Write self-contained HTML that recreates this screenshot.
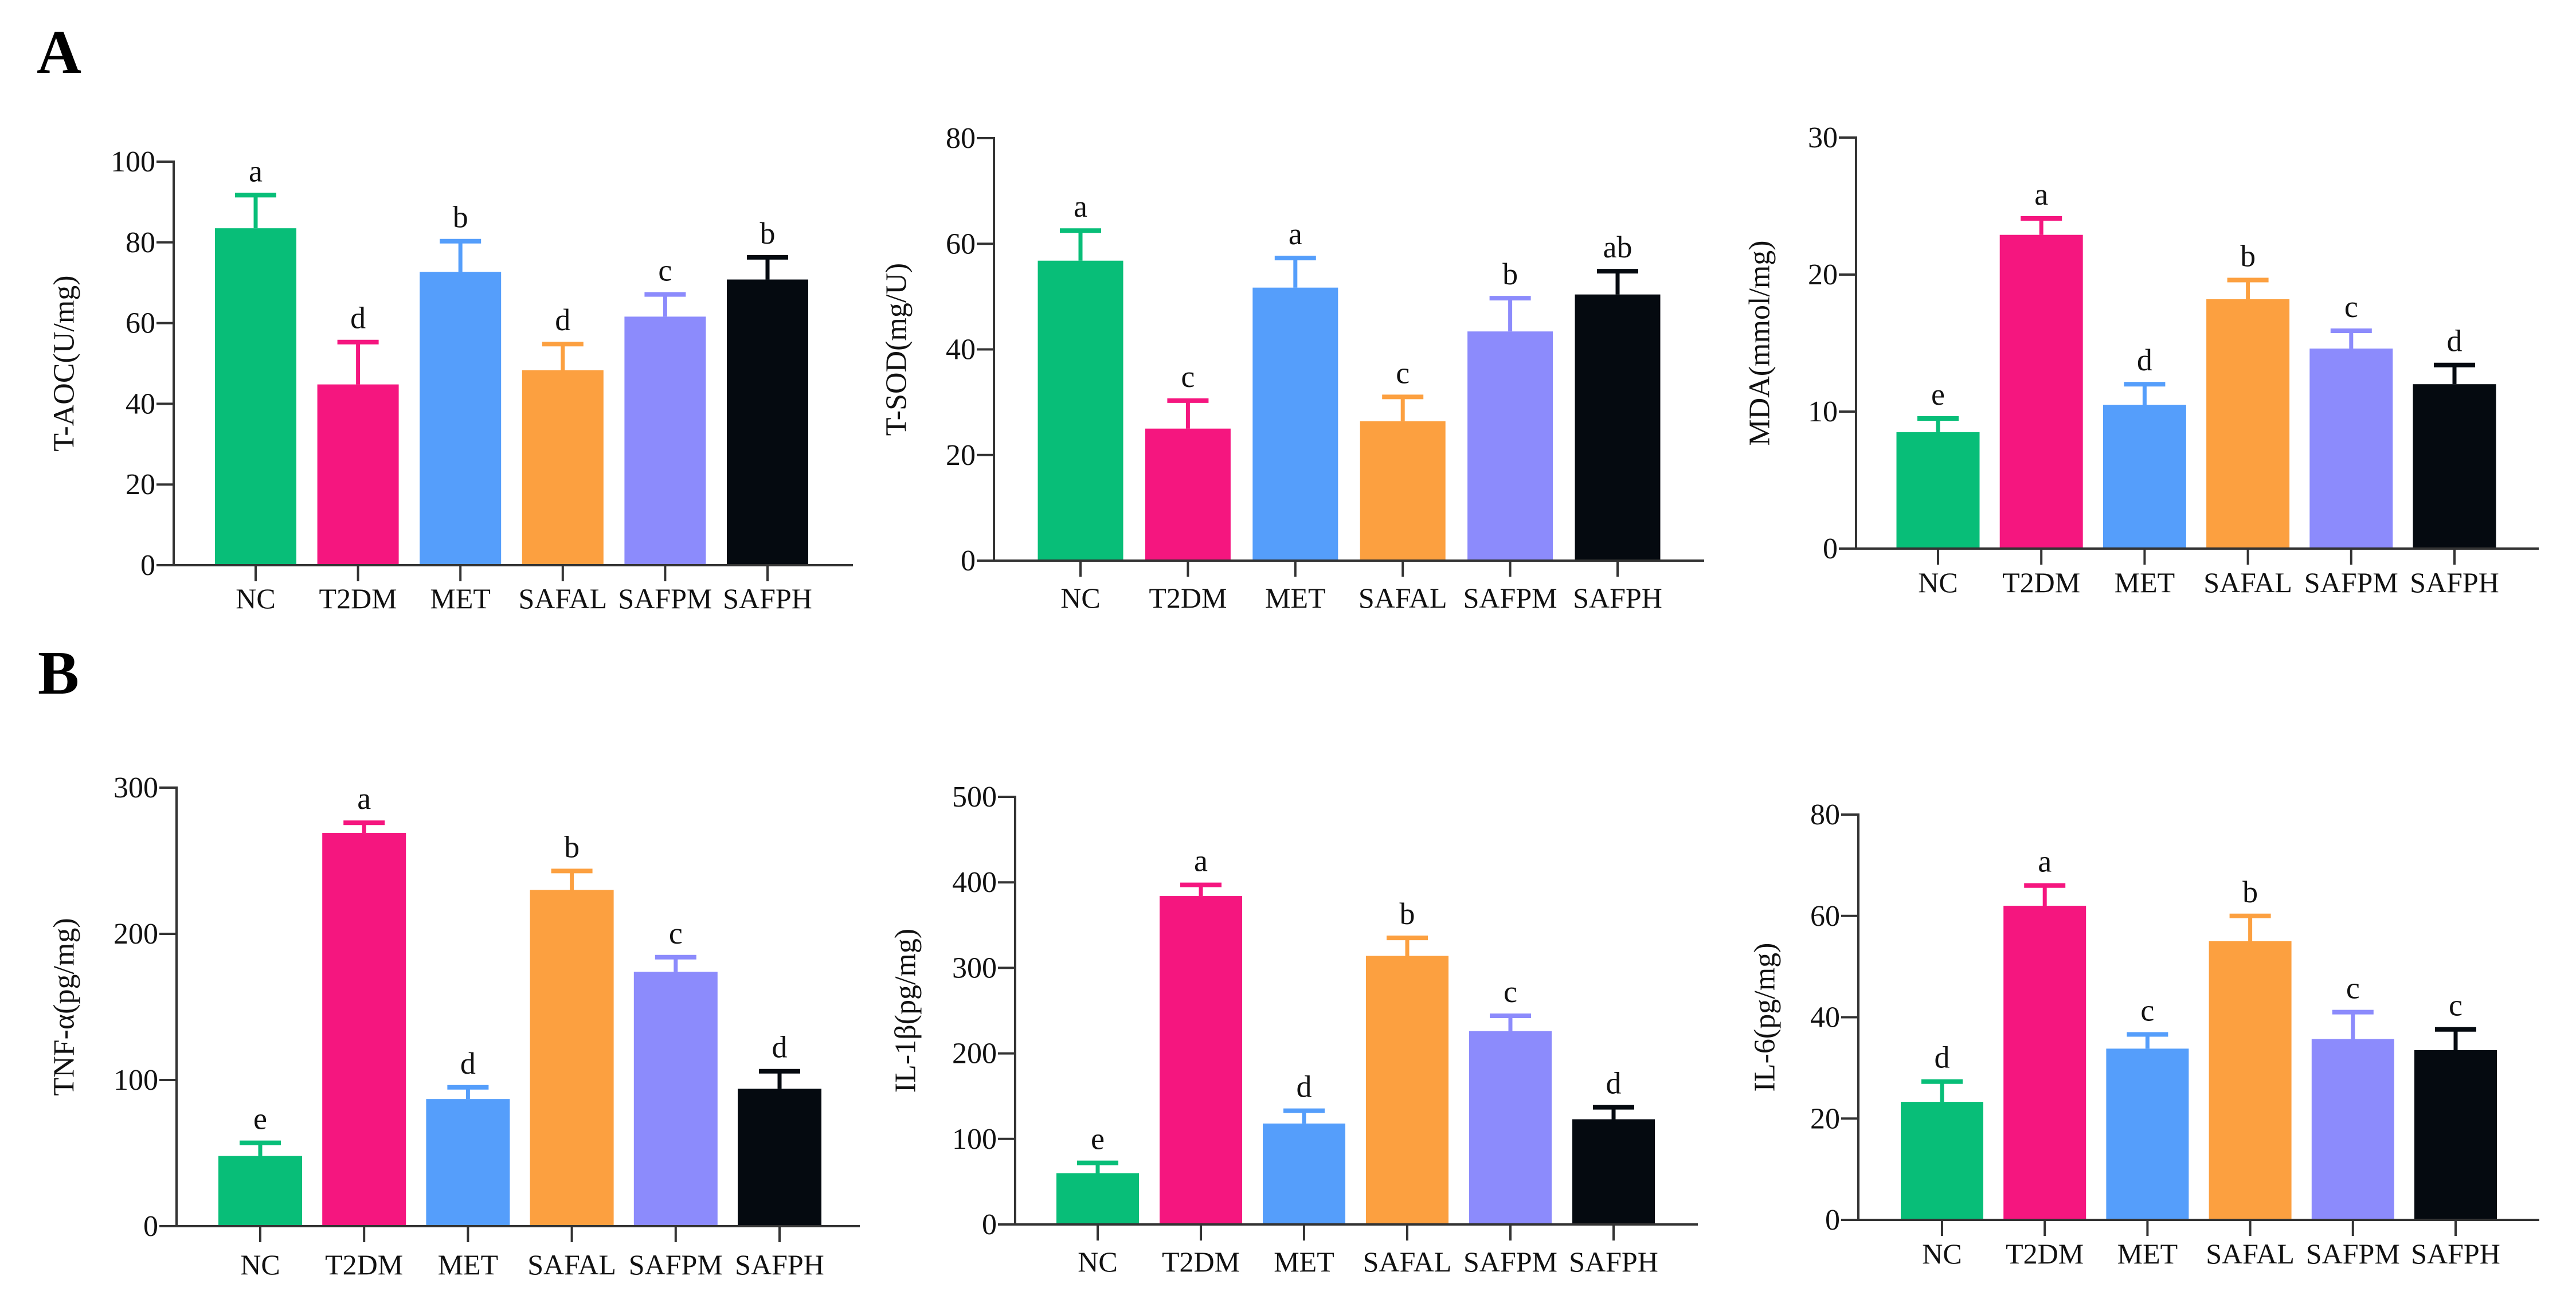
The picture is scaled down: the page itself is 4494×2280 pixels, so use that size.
<!DOCTYPE html>
<html><head><meta charset="utf-8">
<style>
html,body{margin:0;padding:0;background:#fff;}
svg{display:block;font-family:"Liberation Serif","Times New Roman",serif;}
</style></head>
<body>
<svg id="fig" width="4494" height="2280" viewBox="0 0 4494 2280" xmlns="http://www.w3.org/2000/svg">
<rect width="4494" height="2280" fill="#fff"/>
<text x="64" y="127" font-size="108" font-weight="bold">A</text>
<text x="66" y="1210" font-size="108" font-weight="bold">B</text>
</svg>
<script>
const categories = ["NC","T2DM","MET","SAFAL","SAFPM","SAFPH"];
const colors = ["#08BE78","#F5167F","#559EFB","#FCA040","#8C8BFC","#050A10"];

const taocValues = [83.5, 44.8, 72.7, 48.3, 61.6, 70.8];
const taocErrors = [8.2, 10.5, 7.6, 6.5, 5.5, 5.5];
const taocLetters = ["a","d","b","d","c","b"];
const taocTicks = [0,20,40,60,80,100];

const tsodValues = [56.8, 25.0, 51.7, 26.4, 43.4, 50.4];
const tsodErrors = [5.7, 5.3, 5.6, 4.6, 6.3, 4.4];
const tsodLetters = ["a","c","a","c","b","ab"];
const tsodTicks = [0,20,40,60,80];

const mdaValues = [8.5, 22.9, 10.5, 18.2, 14.6, 12.0];
const mdaErrors = [1.0, 1.2, 1.5, 1.4, 1.3, 1.4];
const mdaLetters = ["e","a","d","b","c","d"];
const mdaTicks = [0,10,20,30];

const tnfValues = [48, 269, 87, 230, 174, 94];
const tnfErrors = [9, 7, 8, 13, 10, 12];
const tnfLetters = ["e","a","d","b","c","d"];
const tnfTicks = [0,100,200,300];

const il1bValues = [60, 384, 118, 314, 226, 123];
const il1bErrors = [12, 13, 15, 21, 18, 14];
const il1bLetters = ["e","a","d","b","c","d"];
const il1bTicks = [0,100,200,300,400,500];

const il6Values = [23.3, 62.0, 33.8, 55.0, 35.7, 33.5];
const il6Errors = [4.0, 4.0, 2.8, 5.0, 5.3, 4.1];
const il6Letters = ["d","a","c","b","c","c"];
const il6Ticks = [0,20,40,60,80];

const svg = document.getElementById('fig');
const NS = 'http://www.w3.org/2000/svg';
function mk(tag, attrs, parent){
  const e = document.createElementNS(NS, tag);
  for (const k in attrs) e.setAttribute(k, attrs[k]);
  (parent||svg).appendChild(e);
  return e;
}

function drawChart(id, cfg, values, errors, letters, ticks){
  const g = mk('g', {});
  
  
  const ymax = ticks[ticks.length-1];
  const yScale = v => cfg.zero - (v / ymax) * (cfg.zero - cfg.top);
  const step = (cfg.last - cfg.first) / (categories.length - 1);
  const xScale = i => cfg.first + i * step;

  // bars + error bars + letters
  values.forEach((v, i) => {
    const cx = xScale(i), y = yScale(v), ye = yScale(v + errors[i]);
    const bar = mk('rect', {x: cx - cfg.bw/2, y: y, width: cfg.bw, height: cfg.zero - y, fill: colors[i]}, g);
    
    
    const eb = mk('line', {x1: cx, x2: cx, y1: y, y2: ye, stroke: colors[i], 'stroke-width': 7}, g);
    
    
    const cap = mk('line', {x1: cx - 36, x2: cx + 36, y1: ye, y2: ye, stroke: colors[i], 'stroke-width': 8}, g);
    
    
    const lt = mk('text', {x: cx, y: ye - 24, 'font-size': 54, 'text-anchor': 'middle', fill: '#111'}, g);
    lt.textContent = letters[i];
    
    
    const xt = mk('line', {x1: cx, x2: cx, y1: cfg.zero, y2: cfg.zero + 28, stroke: '#333', 'stroke-width': 4}, g);
    
    
    const xl = mk('text', {x: cx, y: cfg.labelY, 'font-size': 50, 'text-anchor': 'middle', fill: '#111'}, g);
    xl.textContent = categories[i];
    
    
  });

  // axes
  const ya = mk('line', {x1: cfg.ax, x2: cfg.ax, y1: cfg.top - 2, y2: cfg.zero + 2, stroke: '#333', 'stroke-width': 4}, g);
  
  
  const xa = mk('line', {x1: cfg.ax - 30, x2: cfg.right, y1: cfg.zero, y2: cfg.zero, stroke: '#333', 'stroke-width': 4}, g);
  
  

  ticks.forEach(t => {
    const y = yScale(t);
    const tk = mk('line', {x1: cfg.ax - 30, x2: cfg.ax, y1: y, y2: y, stroke: '#333', 'stroke-width': 4}, g);
    
    
    const tl = mk('text', {x: cfg.ax - 32, y: y + 17, 'font-size': 52, 'text-anchor': 'end', fill: '#111'}, g);
    tl.textContent = t;
    
    
  });

  const my = (cfg.top + cfg.zero) / 2;
  const title = mk('text', {x: cfg.titleX, y: my, 'font-size': 52, 'text-anchor': 'middle', fill: '#111',
    transform: 'rotate(-90 ' + cfg.titleX + ' ' + my + ')', 'dominant-baseline': 'central'}, g);
  title.textContent = cfg.title;
  
  
}

drawChart('t-aoc', {ax:303, top:282, zero:986, right:1488, first:446, last:1339, bw:142, labelY:1061, titleX:112, title:'T-AOC(U/mg)'},
  taocValues, taocErrors, taocLetters, taocTicks);
drawChart('t-sod', {ax:1734, top:241, zero:978, right:2973, first:1885, last:2822, bw:149, labelY:1060, titleX:1564, title:'T-SOD(mg/U)'},
  tsodValues, tsodErrors, tsodLetters, tsodTicks);
drawChart('mda', {ax:3238, top:240, zero:957, right:4429, first:3381, last:4282, bw:145, labelY:1033, titleX:3070, title:'MDA(mmol/mg)'},
  mdaValues, mdaErrors, mdaLetters, mdaTicks);
drawChart('tnf', {ax:308, top:1374, zero:2139, right:1500, first:454, last:1360, bw:146, labelY:2223, titleX:112, title:'TNF-α(pg/mg)'},
  tnfValues, tnfErrors, tnfLetters, tnfTicks);
drawChart('il-1b', {ax:1771, top:1390, zero:2136, right:2962, first:1915, last:2815, bw:144, labelY:2218, titleX:1580, title:'IL-1β(pg/mg)'},
  il1bValues, il1bErrors, il1bLetters, il1bTicks);
drawChart('il-6', {ax:3242, top:1421, zero:2128, right:4430, first:3388, last:4284, bw:144, labelY:2204, titleX:3079, title:'IL-6(pg/mg)'},
  il6Values, il6Errors, il6Letters, il6Ticks);
</script>
</body></html>
